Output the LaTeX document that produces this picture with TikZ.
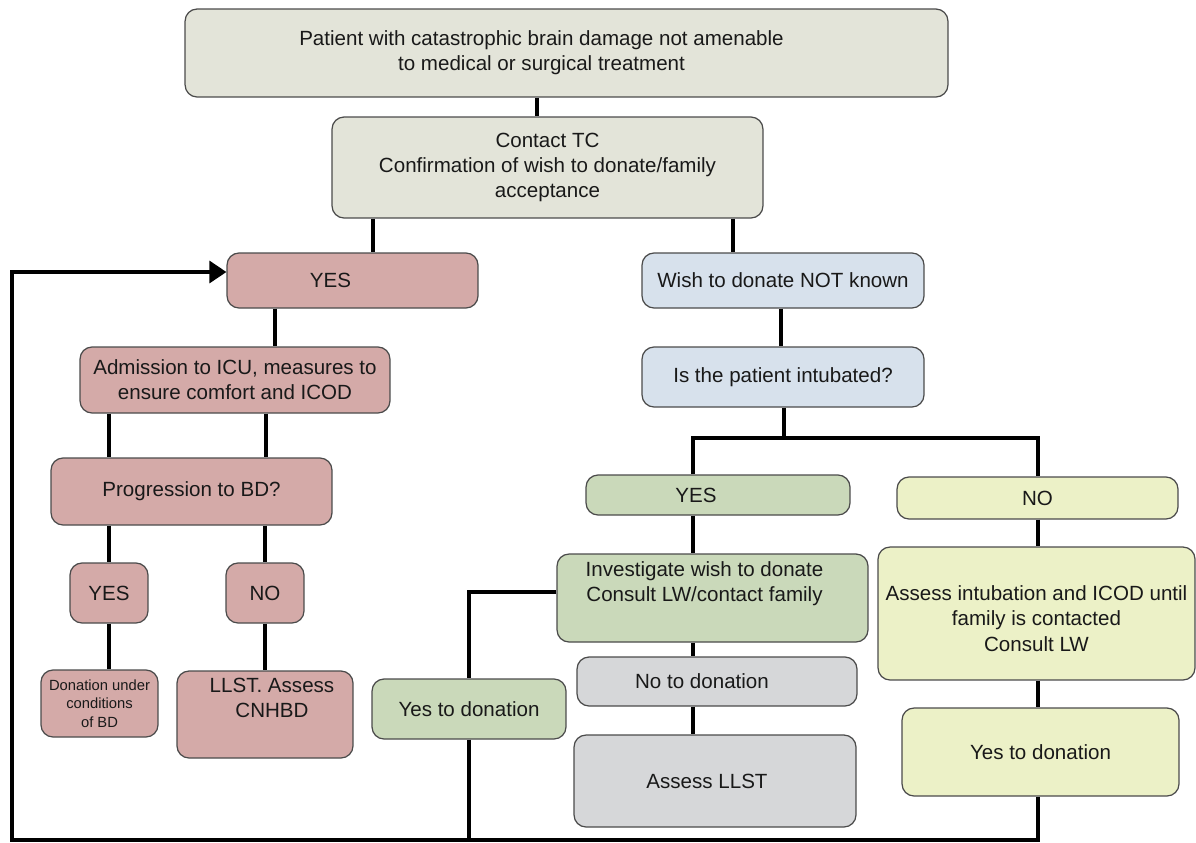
\documentclass[tikz,border=0pt]{standalone}
\usepackage{fontspec}
\setmainfont{Liberation Sans}
\usetikzlibrary{arrows.meta}
\definecolor{cbeige}{RGB}{227,228,217}
\definecolor{crose}{RGB}{212,170,168}
\definecolor{cblue}{RGB}{215,225,236}
\definecolor{cgreen}{RGB}{202,217,186}
\definecolor{cyellow}{RGB}{236,241,199}
\definecolor{cgrey}{RGB}{214,215,217}
\definecolor{cbord}{RGB}{75,75,75}
\definecolor{ctxt}{RGB}{25,25,25}
\begin{document}
\begin{tikzpicture}[x=0.02cm,y=-0.02cm,
 box/.style={draw=cbord,line width=0.7pt,rounded corners=0.24cm,inner sep=0pt,
  align=center,text=ctxt,font=\fontsize{11.7}{14.3}\selectfont},
 sz/.style 2 args={minimum width=#1cm,minimum height=#2cm},
 beige/.style={box,fill=cbeige},
 rose/.style={box,fill=crose},
 blue/.style={box,fill=cblue},
 green/.style={box,fill=cgreen},
 yellow/.style={box,fill=cyellow},
 grey/.style={box,fill=cgrey},
 link/.style={line width=1.8pt,black}]
\useasboundingbox (0,0) rectangle (1196,842);
\node[beige,sz={15.26}{1.76}] (top) at (566.5,53)
 {\kern-1cm Patient with catastrophic brain damage not amenable\\\kern-1cm to medical or surgical treatment};
\node[beige,sz={8.62}{2.02}] (tc) at (547.5,167.5)
 {Contact TC\\Confirmation of wish to donate/family\\acceptance};
\node[rose,sz={5.02}{1.10}] (ryes) at (352.5,280.5) {\kern-0.88cm YES};
\node[rose,sz={6.2}{1.32}] (adm) at (235,380) {Admission to ICU, measures to\\ensure comfort and ICOD};
\node[rose,sz={5.62}{1.34}] (prog) at (191.5,491.5) {Progression to BD?};
\node[rose,sz={1.56}{1.2}] (pyes) at (109,593) {YES};
\node[rose,sz={1.56}{1.2}] (pno) at (265,593) {NO};
\node[rose,sz={2.34}{1.34},font=\fontsize{8.4}{10.5}\selectfont] (don) at (99.5,703.5)
 {Donation under\\conditions\\of BD};
\node[rose,sz={3.52}{1.74}] (llst) at (265,714.5) {\kern0.28cm LLST. Assess\\\kern0.28cm CNHBD\\\strut};
\node[blue,sz={5.64}{1.10}] (wish) at (783,280.5) {Wish to donate NOT known};
\node[blue,sz={5.64}{1.2}] (intub) at (783,377) {Is the patient intubated?};
\node[green,sz={5.28}{0.8}] (gyes) at (718,495) {\kern-0.88cm YES};
\node[yellow,sz={5.62}{0.84}] (yno) at (1037.5,498) {NO};
\node[green,sz={6.22}{1.76}] (inv) at (712.5,598)
 {\kern-0.32cm Investigate wish to donate\\\kern-0.32cm Consult LW/contact family\\\strut};
\node[green,sz={3.88}{1.2}] (gdon) at (469,709) {Yes to donation};
\node[grey,sz={5.6}{0.98}] (nodon) at (717,681.5) {\kern-0.6cm No to donation};
\node[grey,sz={5.64}{1.84}] (allst) at (715,781) {\kern-0.32cm Assess LLST};
\node[yellow,sz={6.34}{2.66}] (assint) at (1036.5,613.5)
 {\rule{0pt}{0.5cm}Assess intubation and ICOD until\\family is contacted\\Consult LW};
\node[yellow,sz={5.54}{1.76}] (ydon) at (1040.5,752) {Yes to donation};
\coordinate (jn) at (784,438);
\coordinate (lc) at (12,840);
\draw[link] (top.south -| 537,0) -- (tc.north -| 537,0);
\draw[link] (tc.south -| 373,0) -- (ryes.north -| 373,0);
\draw[link] (tc.south -| 733,0) -- (wish.north -| 733,0);
\draw[link] (ryes.south -| 275,0) -- (adm.north -| 275,0);
\draw[link] (adm.south -| 109,0) -- (prog.north -| 109,0);
\draw[link] (adm.south -| 266,0) -- (prog.north -| 266,0);
\draw[link] (prog.south -| pyes.north) -- (pyes.north);
\draw[link] (prog.south -| pno.north) -- (pno.north);
\draw[link] (pyes.south) -- (pyes.south |- don.north);
\draw[link] (pno.south) -- (pno.south |- llst.north);
\draw[link] (wish.south -| 781,0) -- (intub.north -| 781,0);
\draw[link] (intub.south -| jn) -- (jn);
\draw[link] (gyes.north -| 693,0) |- (jn) -| (yno.north -| 1038,0);
\draw[link] (gyes.south -| 693,0) -- (inv.north -| 693,0);
\draw[link] (inv.south -| 693,0) -- (nodon.north -| 693,0);
\draw[link] (nodon.south -| 693,0) -- (allst.north -| 693,0);
\draw[link] (inv.west |- 0,592) -| (gdon.north -| 469,0);
\draw[link] (gdon.south -| 469,0) -- (lc -| gdon.south);
\draw[link] (yno.south -| 1038,0) -- (assint.north -| 1038,0);
\draw[link] (assint.south -| 1038,0) -- (ydon.north -| 1038,0);
\draw[link,-{Triangle[length=0.34cm,width=0.44cm]}] (ydon.south -| 1038,0) |- (lc) |- (ryes.west |- 0,272);
\end{tikzpicture}
\end{document}
